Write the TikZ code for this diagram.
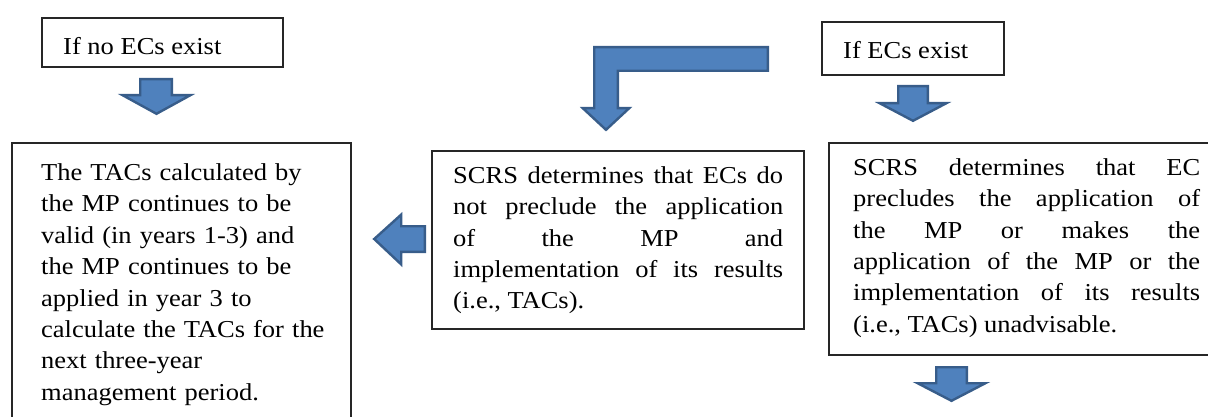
\documentclass[tikz,border=0pt]{standalone}
\usepackage{fontspec}
\setmainfont{Liberation Serif}[FakeStretch=1.09]
\definecolor{arrfill}{HTML}{4F81BD}
\definecolor{arrline}{HTML}{385D8A}
\tikzset{
  boxframe/.style={draw=black!85, line width=1.1pt, fill=none},
  txt/.style={anchor=north west, inner sep=0pt, font=\fontsize{24.3}{31.4}\selectfont},
  blockarrow/.style={fill=arrfill, draw=arrline, line width=2.4pt, line join=miter},
}
\begin{document}
\begin{tikzpicture}[x=1pt,y=-1pt]
\useasboundingbox (0,0) rectangle (1208,417);
\clip (0,0) rectangle (1208,417);
\fill[white] (0,0) rectangle (1208,417);
% small top boxes
\draw[boxframe] (42,18) rectangle (283,67);
\node[txt] (noec) at (63,36.8) {If no ECs exist};
\draw[boxframe] (822,22) rectangle (1004,75);
\node[txt] (ec) at (843,40.8) {If ECs exist};
% big boxes
\draw[boxframe] (12,143) rectangle (351,440);
\node[txt, text width=300pt, align=left] (valid) at (41,163.4)
 {The TACs calculated by\\
  the MP continues to be\\
  valid (in years 1-3) and\\
  the MP continues to be\\
  applied in year 3 to\\
  calculate the TACs for the\\
  next three-year\\
  management period.};
\draw[boxframe] (432,151) rectangle (804,329);
\node[txt, text width=330pt, align=justify] (nopre) at (453,166.2)
 {SCRS determines that ECs do\linebreak
  not preclude the application\linebreak
  of the MP and\linebreak
  implementation of its results\linebreak
  (i.e., TACs).};
\draw[boxframe] (829,143) rectangle (1230,355);
\node[txt, text width=347pt, align=justify] (pre) at (853,158.2)
 {SCRS determines that EC\linebreak
  precludes the application of\linebreak
  the MP or makes the\linebreak
  application of the MP or the\linebreak
  implementation of its results\linebreak
  (i.e., TACs) unadvisable.};
% block arrows
\draw[blockarrow] (140.2,79.2) -- (171.8,79.2) -- (171.8,95.2) -- (190.4,95.2) -- (156.5,113.8) -- (122.6,95.2) -- (140.2,95.2) -- cycle;
\draw[blockarrow] (898.2,86.2) -- (927.8,86.2) -- (927.8,103.2) -- (946.4,103.2) -- (913,120.8) -- (879.6,103.2) -- (898.2,103.2) -- cycle;
\draw[blockarrow] (936.2,367.2) -- (966.8,367.2) -- (966.8,383.2) -- (985.4,383.2) -- (951.5,400.8) -- (917.6,383.2) -- (936.2,383.2) -- cycle;
\draw[blockarrow] (424.8,226.2) -- (401.2,226.2) -- (401.2,214.6) -- (374.2,239) -- (401.2,264.4) -- (401.2,251.8) -- (424.8,251.8) -- cycle;
\draw[blockarrow] (767.8,47.2) -- (594.2,47.2) -- (594.2,108.2) -- (582.8,108.2) -- (606,129.8) -- (629.2,108.2) -- (617.8,108.2) -- (617.8,70.8) -- (767.8,70.8) -- cycle;
\end{tikzpicture}
\end{document}
